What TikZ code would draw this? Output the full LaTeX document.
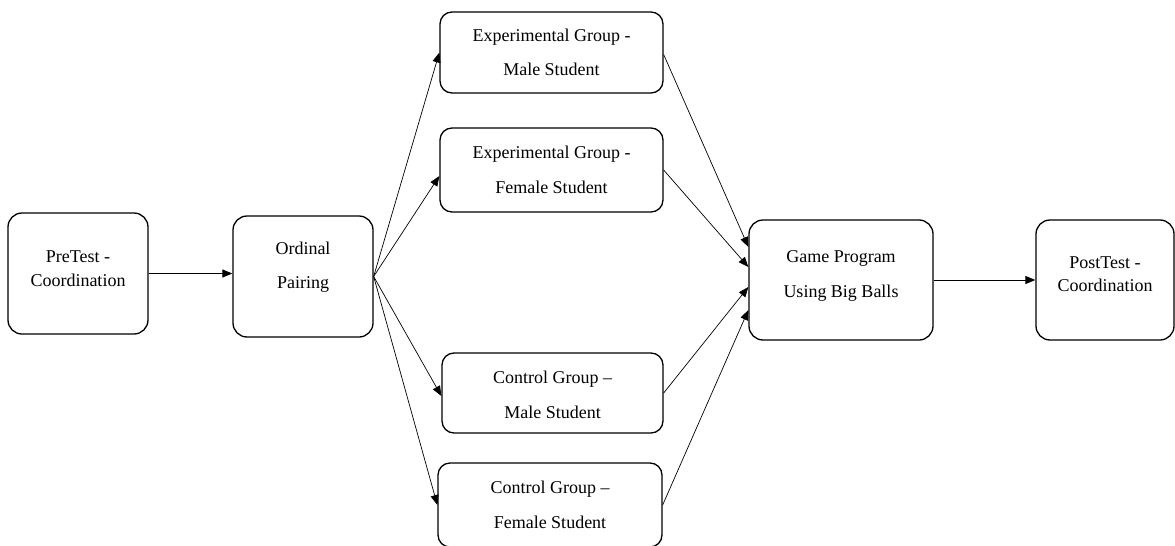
\documentclass[tikz,border=0pt]{standalone}
\usepackage{fontspec}
\newfontfamily\tnr{Liberation Serif}
\newfontfamily\tnf{LiberationSerif-Regular.ttf}
\usetikzlibrary{arrows.meta,calc}
\begin{document}
\begin{tikzpicture}[x=1pt,y=-1pt,
  box/.style={draw=black, line width=1.3pt, rounded corners=14pt, inner sep=0pt},
  gbox/.style={box, rounded corners=12pt},
  lbl/.style={align=center, inner sep=0pt, scale=0.6, transform shape},
  tight/.style={lbl, font=\tnr\fontsize{30}{39.2}\selectfont},
  wide/.style={lbl, font=\tnr\fontsize{30}{57.5}\selectfont},
  arr/.style={-{Triangle[length=10pt,width=8pt]}, line width=0.7pt},
  harr/.style={arr, line width=1pt}]
\useasboundingbox (0,0) rectangle (1175,546);
% boxes
\node[box, minimum width=140pt, minimum height=121pt] (pre) at (78,273.5) {};
\node[box, minimum width=140pt, minimum height=121pt] (ord) at (303,276.5) {};
\node[gbox, minimum width=223pt, minimum height=81pt] (em) at (551.5,52.5) {};
\node[gbox, minimum width=223pt, minimum height=84pt] (ef) at (551.5,170) {};
\node[gbox, minimum width=221pt, minimum height=80pt] (cm) at (552.5,393) {};
\node[gbox, minimum width=224pt, minimum height=84pt] (cf) at (550,505) {};
\node[box, minimum width=184pt, minimum height=120pt] (game) at (841,280) {};
\node[box, minimum width=138pt, minimum height=120pt] (post) at (1105,280) {};
% texts
\node[tight] (preT) at (78,268.5) {PreTest -\\Coordination};
\node[wide] (ordT) at (303,267) {Ordinal\\Pairing};
\node[wide] (emT) at (551.5,52.5) {Experimental Group -\\Male Student};
\node[wide] (efT) at (551.5,170) {Experimental Group -\\Female Student};
\node[wide] (cmT) at (552.5,395) {Control Group \textendash\\Male Student};
\node[wide] (cfT) at (550,505) {Control Group \textendash\\Female Student};
\node[wide] (gameT) at (841,276) {Game Program\\Using Big Balls};
\node[tight] (postT) at (1105,274) {PostTest -\\Coordination};
% connectors
\draw[harr] (pre.east) -- (pre.east -| ord.west);
\draw[harr] (game.east) -- (post.west);
\draw[arr] (ord.east) -- (em.west);
\draw[arr] (ord.east) -- ($(ef.west)+(0,6)$);
\draw[arr] (ord.east) -- ($(cm.west)+(0,3)$);
\draw[arr] (ord.east) -- (cf.west);
\draw[arr] ($(em.east)+(0,2)$) -- ($(game.west)+(0,-33)$);
\draw[arr] (ef.east) -- ($(game.west)+(0,-13)$);
\draw[arr] (cm.east) -- ($(game.west)+(0,7)$);
\draw[arr] (cf.east) -- ($(game.west)+(0,30)$);
\end{tikzpicture}
\end{document}
